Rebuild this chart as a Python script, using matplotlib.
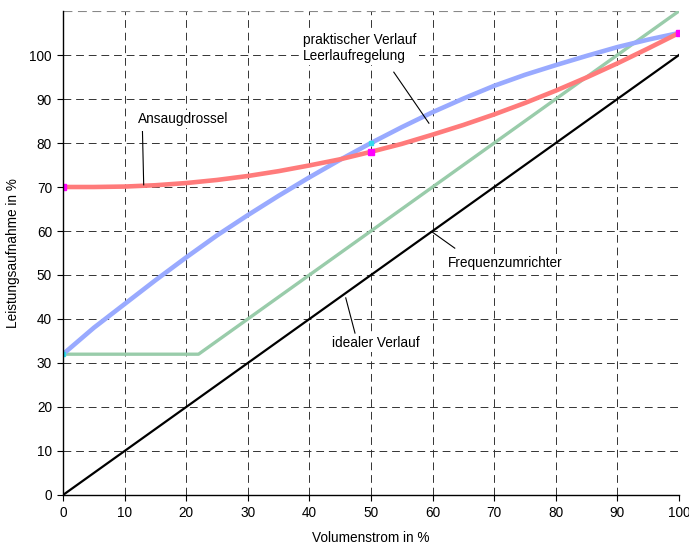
import numpy as np
import matplotlib.pyplot as plt

plt.rcParams['font.family'] = ['Liberation Sans', 'DejaVu Sans']

# --- data ---
x = [0, 5, 10, 15, 20, 25, 30, 35, 40, 45, 50,
     55, 60, 65, 70, 75, 80, 85, 90, 95, 100]
leerlauf = [32, 38, 43.4, 48.8, 54, 59, 63.6, 68, 72.2, 76.2, 80,
            83.6, 87, 90.1, 93, 95.5, 97.7, 99.8, 101.8, 103.5, 105]
ansaug = [70, 70, 70.1, 70.4, 70.9, 71.6, 72.5, 73.6, 74.9, 76.3, 78,
          79.8, 81.9, 84.1, 86.5, 89.1, 91.9, 94.9, 98.1, 101.5, 105]
freq_x = [0, 22, 100]
freq_y = [32, 32, 110]
ideal_x = [0, 100]
ideal_y = [0, 100]
mark_x = [0, 50, 100]
ansaug_mark = [70, 78, 105]
leer_mark = [32, 80, 105]

fig = plt.figure(figsize=(6.89, 5.47), dpi=100)
ax = fig.add_axes([63 / 689, 52 / 547, 616 / 689, 484 / 547])

# grid
dash = (0, (8, 5))
for v in range(10, 101, 10):
    ax.axhline(v, color='#333333', lw=0.7, ls=dash, zorder=1)
for v in range(10, 100, 10):
    ax.axvline(v, color='#333333', lw=0.7, ls=dash, zorder=1)
ax.axhline(110, color='#888888', lw=0.8, ls=dash, zorder=1)

ax.plot(ideal_x, ideal_y, color='black', lw=1.6, zorder=3)
ax.plot(freq_x, freq_y, color='#99ccaa', lw=2.4, zorder=4)
ax.plot(x, leerlauf, color='#99aaff', lw=3.3, zorder=5, solid_joinstyle='round')
ax.plot(mark_x, leer_mark, ls='none', marker='s', ms=3, color='#33ddee', zorder=5)
ax.plot(x, ansaug, color='#ff7b7b', lw=3.3, zorder=6, solid_joinstyle='round')
ax.plot(mark_x, ansaug_mark, ls='none', marker='s', ms=4, color='#ff00ff', zorder=7)

# annotations with leader lines (labels sit on a white box over the grid)
fs = 9.8
box = dict(facecolor='white', edgecolor='none', pad=1.5)
ax.plot([12.9, 13.1], [82.6, 70.5], color='black', lw=0.8, zorder=8)
ax.text(12.2, 85.5, 'Ansaugdrossel', fontsize=fs, va='center', ha='left',
        bbox=box, zorder=2)

ax.plot([53.7, 59.4], [96.1, 84.5], color='black', lw=0.8, zorder=8)
ax.text(39, 101.6, 'praktischer Verlauf\nLeerlaufregelung', fontsize=fs,
        va='center', ha='left', linespacing=1.1, bbox=box, zorder=2)

ax.plot([59.9, 63.6], [59.8, 56.1], color='black', lw=0.8, zorder=8)
ax.text(62.5, 52.7, 'Frequenzumrichter', fontsize=fs, va='center', ha='left',
        bbox=box, zorder=2)

ax.plot([45.9, 47.4], [44.8, 36.8], color='black', lw=0.8, zorder=8)
ax.text(43.7, 34.5, 'idealer Verlauf', fontsize=fs, va='center', ha='left',
        bbox=box, zorder=2)

ax.set_xlim(0, 100)
ax.set_ylim(0, 110)
ax.set_xticks(range(0, 101, 10))
ax.set_yticks(range(0, 101, 10))
ax.tick_params(direction='out', length=4, width=0.8, labelsize=fs, pad=4)
for s in ['top', 'right']:
    ax.spines[s].set_visible(False)
ax.spines['left'].set_linewidth(1.0)
ax.spines['bottom'].set_linewidth(1.0)
ax.spines['left'].set_zorder(9)
ax.spines['bottom'].set_zorder(9)

ax.set_xlabel('Volumenstrom in %', fontsize=fs, labelpad=8)
ax.set_ylabel('Leistungsaufnahme in %', fontsize=fs, labelpad=7)

fig.savefig('out.png', dpi=100)
